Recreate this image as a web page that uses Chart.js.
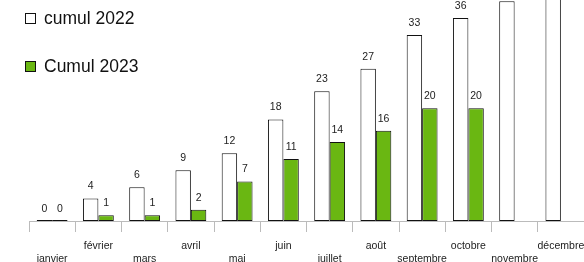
<!DOCTYPE html>
<html><head><meta charset="utf-8">
<script src="https://cdn.jsdelivr.net/npm/chart.js@4/dist/chart.umd.min.js"></script>
<style>
html,body{margin:0;padding:0;background:#fff;}
#wrap{position:relative;width:584px;height:262px;}
canvas{position:absolute;left:0;top:0;}
.lg{position:absolute;font-family:"Liberation Sans",Arial,sans-serif;font-size:17.5px;color:#111;line-height:20px;white-space:nowrap;}
.lg span{display:inline-block;width:9px;height:9px;border:1px solid #111;margin-right:8px;vertical-align:0px;}
</style></head>
<body><div id="wrap"><canvas id="c" width="584" height="262"></canvas>
<div class="lg" style="left:25px;top:8px;"><span style="background:#fff"></span>cumul 2022</div>
<div class="lg" style="left:25px;top:56px;"><span style="background:#6ab712"></span>Cumul 2023</div>
</div>
<script>
const months = ['janvier','février','mars','avril','mai','juin','juillet','août','septembre','octobre','novembre','décembre'];
const cumul2022 = [0,4,6,9,12,18,23,27,33,36,39,42];
const cumul2023 = [0,1,1,2,7,11,14,16,20,20,null,null];
const seriesNames = ['cumul 2022','Cumul 2023'];

const valueLabels = {
  id:'valueLabels',
  afterDatasetsDraw(chart){
    const ctx = chart.ctx;
    const yMax = chart.scales.y.max;
    const y0 = chart.scales.y.getPixelForValue(0);
    ctx.save();
    ctx.font = '10.5px "Liberation Sans", Arial, sans-serif';
    ctx.fillStyle = '#222';
    ctx.textAlign = 'center';
    ctx.textBaseline = 'middle';
    chart.data.datasets.forEach((ds,i)=>{
      const meta = chart.getDatasetMeta(i);
      meta.data.forEach((bar,j)=>{
        const v = ds.data[j];
        if (v === null || v > yMax - 2) return;
        const top = v === 0 ? y0 : bar.y;
        ctx.fillText(String(v), bar.x, top - 12);
      });
    });
    ctx.restore();
  }
};

new Chart(document.getElementById('c'), {
  type:'bar',
  data:{
    labels: months,
    datasets:[
      {label:seriesNames[0], data:cumul2022, backgroundColor:'#ffffff', borderColor:'#111', borderWidth:1, borderSkipped:false, minBarLength:1},
      {label:seriesNames[1], data:cumul2023, backgroundColor:'#6ab712', borderColor:'#111', borderWidth:1, borderSkipped:false, minBarLength:1}
    ]
  },
  options:{
    responsive:false, animation:false,
    layout:{padding:{left:29,right:0,top:0,bottom:0}},
    plugins:{legend:{display:false}, tooltip:{enabled:false}},
    datasets:{bar:{categoryPercentage:0.667, barPercentage:1.0}},
    scales:{
      y:{display:false, min:0, max:39.2},
      x:{
        offset:true,
        grid:{offset:true, drawOnChartArea:false, drawTicks:true, tickLength:11, color:'#bbb'},
        border:{display:true, color:'#bbb'},
        ticks:{autoSkip:false, maxRotation:0, minRotation:0, padding:8, color:'#222',
          font:{family:'"Liberation Sans", Arial, sans-serif', size:10.5, lineHeight:1.2},
          callback:function(v,i){ const m = months[i]; return i%2===0 ? ['', m] : [m, '']; }
        },
        afterFit(scale){ scale.height = 41; scale.paddingLeft = 0; scale.paddingRight = 0; }
      }
    }
  },
  plugins:[valueLabels]
});
</script></body></html>
